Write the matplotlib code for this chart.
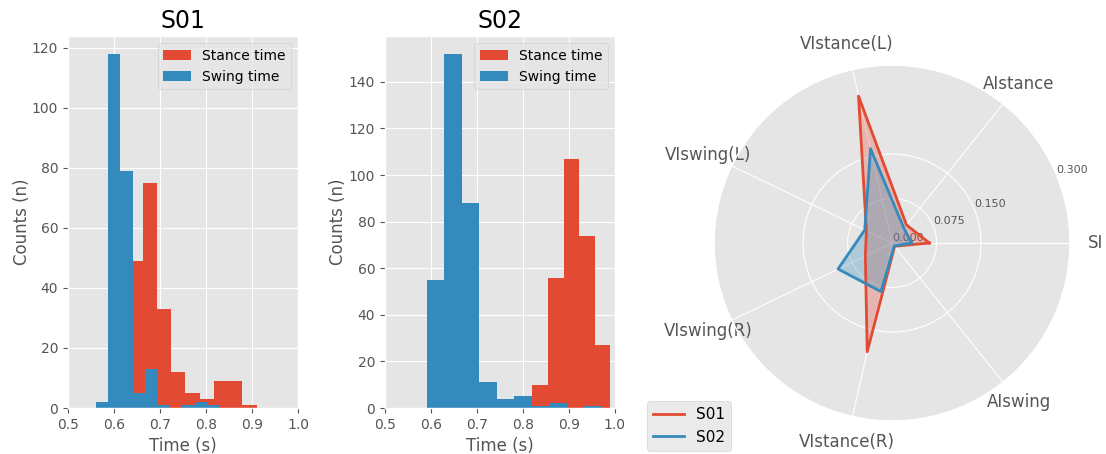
import matplotlib
matplotlib.use("Agg")
import matplotlib.pyplot as plt
import numpy as np

# Histogram bin edges and counts per subject (time in seconds)
s01_stance_edges = [0.601, 0.632, 0.663, 0.693, 0.724, 0.755, 0.786, 0.817, 0.848, 0.879, 0.910]
s01_stance_counts = [26, 49, 75, 33, 12, 5, 3, 9, 9, 1]
s01_swing_edges = [0.560, 0.587, 0.614, 0.641, 0.668, 0.694, 0.721, 0.748, 0.775, 0.802, 0.829]
s01_swing_counts = [2, 118, 79, 5, 13, 1, 0, 1, 2, 1]

s02_stance_edges = [0.820, 0.855, 0.889, 0.922, 0.956, 0.990]
s02_stance_counts = [10, 56, 107, 74, 27]
s02_swing_edges = [0.591, 0.629, 0.667, 0.705, 0.743, 0.781, 0.819, 0.857, 0.895, 0.933, 0.970]
s02_swing_counts = [55, 152, 88, 11, 4, 5, 1, 2, 0, 1]

# Symmetry / asymmetry indices for the radar plot
indices = ["SI", "AIstance", "VIstance(L)", "VIswing(L)", "VIswing(R)", "VIstance(R)", "AIswing"]
s01_index = [0.063, 0.039, 0.254, 0.048, 0.050, 0.188, 0.007]
s02_index = [0.033, 0.032, 0.163, 0.051, 0.101, 0.084, 0.006]
r_ticks = [0.0, 0.075, 0.150, 0.300]

plt.style.use("ggplot")
red, blue = "#E24A33", "#348ABD"

fig = plt.figure(figsize=(11.06, 4.54), dpi=100)
ax1 = fig.add_axes([0.0615, 0.1013, 0.208, 0.819])
ax2 = fig.add_axes([0.348, 0.1013, 0.208, 0.819])
ax3 = fig.add_axes([0.6456, 0.0727, 0.3219, 0.784], projection="polar")


def hist_panel(ax, title, st_edges, st_counts, sw_edges, sw_counts):
    ax.hist(st_edges[:-1], bins=st_edges, weights=st_counts, color=red,
            label="Stance time")
    ax.hist(sw_edges[:-1], bins=sw_edges, weights=sw_counts, color=blue,
            label="Swing time")
    ax.set_xlim(0.5, 1.0)
    ax.set_xticks([0.5, 0.6, 0.7, 0.8, 0.9, 1.0])
    ax.set_title(title, fontsize=17)
    ax.set_xlabel("Time (s)")
    ax.set_ylabel("Counts (n)", labelpad=1)
    ax.legend(loc="upper right")


hist_panel(ax1, "S01", s01_stance_edges, s01_stance_counts, s01_swing_edges, s01_swing_counts)
hist_panel(ax2, "S02", s02_stance_edges, s02_stance_counts, s02_swing_edges, s02_swing_counts)

# radar plot, closing each polygon back to the first index
angles = np.linspace(0, 2 * np.pi, len(indices), endpoint=False)
theta = np.concatenate([angles, angles[:1]])
for vals, col, name in [(s01_index, red, "S01"), (s02_index, blue, "S02")]:
    r = np.concatenate([vals, vals[:1]])
    ax3.plot(theta, r, color=col, lw=2, label=name)
    ax3.fill(theta, r, color=col, alpha=0.3)
ax3.set_xticks(angles)
ax3.set_xticklabels(indices, fontsize=12)
ax3.tick_params(axis="x", pad=8)
ax3.set_ylim(0, 0.3)
ax3.set_rgrids(r_ticks, labels=["%.3f" % v for v in r_ticks], fontsize=8)
ax3.legend(loc="lower left", bbox_to_anchor=(-0.188, -0.084), borderaxespad=0, fontsize=11)

fig.savefig("out.png", dpi=100)
